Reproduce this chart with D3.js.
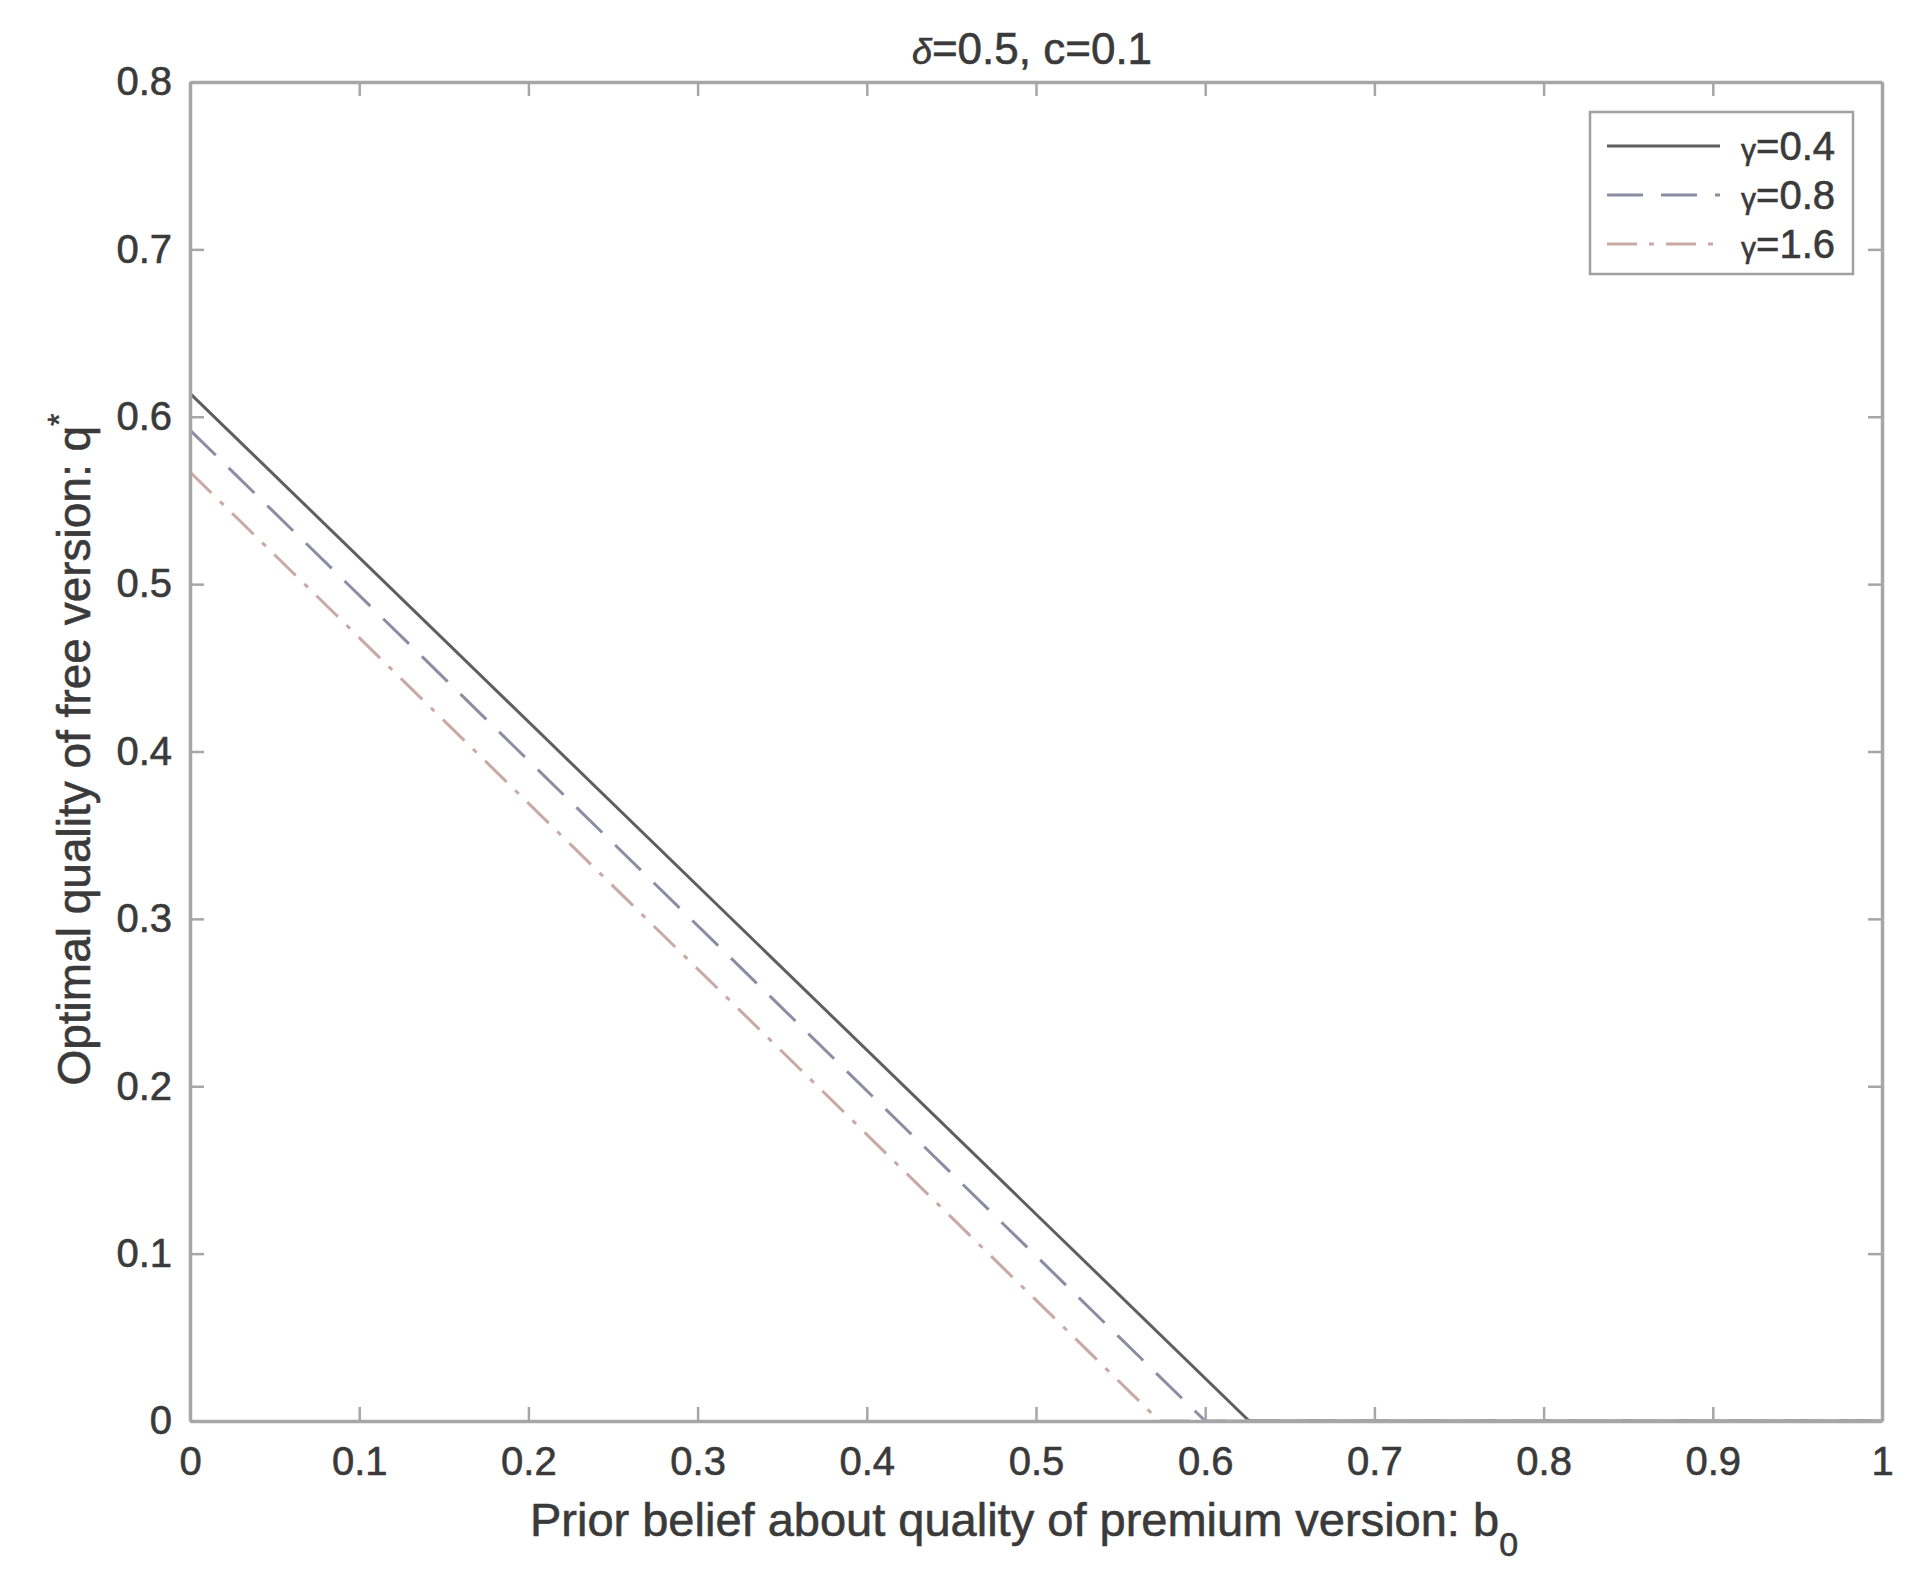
<!DOCTYPE html>
<html>
<head>
<meta charset="utf-8">
<script src="https://cdn.jsdelivr.net/npm/d3@7"></script>
<style>
html,body{margin:0;padding:0;background:#fff;}
text{font-family:"Liberation Sans",Arial,Helvetica,sans-serif;}
.t{stroke:#3a3a3a;stroke-width:0.6px;}
</style>
</head>
<body>
<svg id="chart" width="1919" height="1592"></svg>
<script>
// ---- data ----
const xTicks = [0,0.1,0.2,0.3,0.4,0.5,0.6,0.7,0.8,0.9,1];
const xTickLabels = ["0","0.1","0.2","0.3","0.4","0.5","0.6","0.7","0.8","0.9","1"];
const yTicks = [0,0.1,0.2,0.3,0.4,0.5,0.6,0.7,0.8];
const yTickLabels = ["0","0.1","0.2","0.3","0.4","0.5","0.6","0.7","0.8"];
const seriesNames = ["γ=0.4","γ=0.8","γ=1.6"];
const gamma04_b = [0, 0.626, 1];
const gamma04_q = [0.614, 0, 0];
const gamma08_b = [0, 0.600, 1];
const gamma08_q = [0.592, 0, 0];
const gamma16_b = [0, 0.573, 1];
const gamma16_q = [0.567, 0, 0];

const series = [
  {name: seriesNames[0], b: gamma04_b, q: gamma04_q, color: "#5f5f5f", dash: null},
  {name: seriesNames[1], b: gamma08_b, q: gamma08_q, color: "#8c8ca4", dash: "36,18"},
  {name: seriesNames[2], b: gamma16_b, q: gamma16_q, color: "#c9a9a4", dash: "30,12,5,12"}
];

const svg = d3.select("#chart");
const L = 190, R = 1882, T = 82, B = 1421;
const x = d3.scaleLinear().domain([0,1]).range([L,R]);
const y = d3.scaleLinear().domain([0,0.8]).range([B,T]);
const axisColor = "#a6a6a6";
const textColor = "#3a3a3a";
const fs = 40;

// lines
const line = d3.line().x(d=>x(d[0])).y(d=>y(d[1]));
series.forEach(s=>{
  const pts = s.b.map((v,i)=>[v, s.q[i]]);
  svg.append("path").datum(pts)
    .attr("d", line)
    .attr("fill","none")
    .attr("stroke", s.color)
    .attr("stroke-width", 3)
    .attr("stroke-dasharray", s.dash);
});

// axes (MATLAB-style box with inward ticks)
const tickLen = 14;
const xb = svg.append("g").attr("transform",`translate(0,${B})`)
  .call(d3.axisBottom(x).tickValues(xTicks).tickFormat((d,i)=>xTickLabels[i]).tickSizeInner(-tickLen).tickSizeOuter(0).tickPadding(26));
const xt = svg.append("g").attr("transform",`translate(0,${T})`)
  .call(d3.axisTop(x).tickValues(xTicks).tickFormat("").tickSizeInner(-tickLen).tickSizeOuter(0));
const yl = svg.append("g").attr("transform",`translate(${L},0)`)
  .call(d3.axisLeft(y).tickValues(yTicks).tickFormat((d,i)=>yTickLabels[i]).tickSizeInner(-tickLen).tickSizeOuter(0).tickPadding(18));
const yr = svg.append("g").attr("transform",`translate(${R},0)`)
  .call(d3.axisRight(y).tickValues(yTicks).tickFormat("").tickSizeInner(-tickLen).tickSizeOuter(0));
[xb,xt,yl,yr].forEach(g=>{
  g.selectAll(".domain").attr("stroke",axisColor).attr("stroke-width",3.5);
  g.selectAll(".tick line").attr("stroke",axisColor).attr("stroke-width",2.5);
  g.selectAll(".tick text").attr("fill",textColor).attr("class","t").style("font-size",fs+"px").style("font-family","'Liberation Sans',Arial,sans-serif");
});

// title
svg.append("text").attr("class","t").attr("x",(L+R)/2-4).attr("y",64).attr("text-anchor","middle")
  .attr("fill",textColor).style("font-size","44px")
  .html('<tspan font-style="italic" font-size="36">δ</tspan>=0.5, c=0.1');

// x label
svg.append("text").attr("class","t").attr("x",(L+R)/2-12).attr("y",1536).attr("text-anchor","middle")
  .attr("fill",textColor).style("font-size","47px")
  .html('Prior belief about quality of premium version: b<tspan dy="20" font-size="34">0</tspan>');

// y label
svg.append("text").attr("class","t").attr("transform",`translate(90,${(T+B)/2-2}) rotate(-90)`).attr("text-anchor","middle")
  .attr("fill",textColor).style("font-size","46px")
  .html('Optimal quality of free version: q<tspan dy="-20" font-size="32">*</tspan>');

// legend
const lg = svg.append("g");
lg.append("rect").attr("x",1590).attr("y",112).attr("width",263).attr("height",162)
  .attr("fill","#fff").attr("stroke","#a0a0a0").attr("stroke-width",2.5);
series.forEach((s,i)=>{
  const yy = 146 + i*49;
  lg.append("line").attr("x1",1607).attr("x2",1720).attr("y1",yy).attr("y2",yy)
    .attr("stroke",s.color).attr("stroke-width",3).attr("stroke-dasharray",s.dash);
  lg.append("text").attr("class","t").attr("x",1835).attr("y",yy+14).attr("text-anchor","end")
    .attr("fill",textColor).style("font-size","40px")
    .html('<tspan font-size="30">γ</tspan>=' + s.name.split("=")[1]);
});
</script>
</body>
</html>
